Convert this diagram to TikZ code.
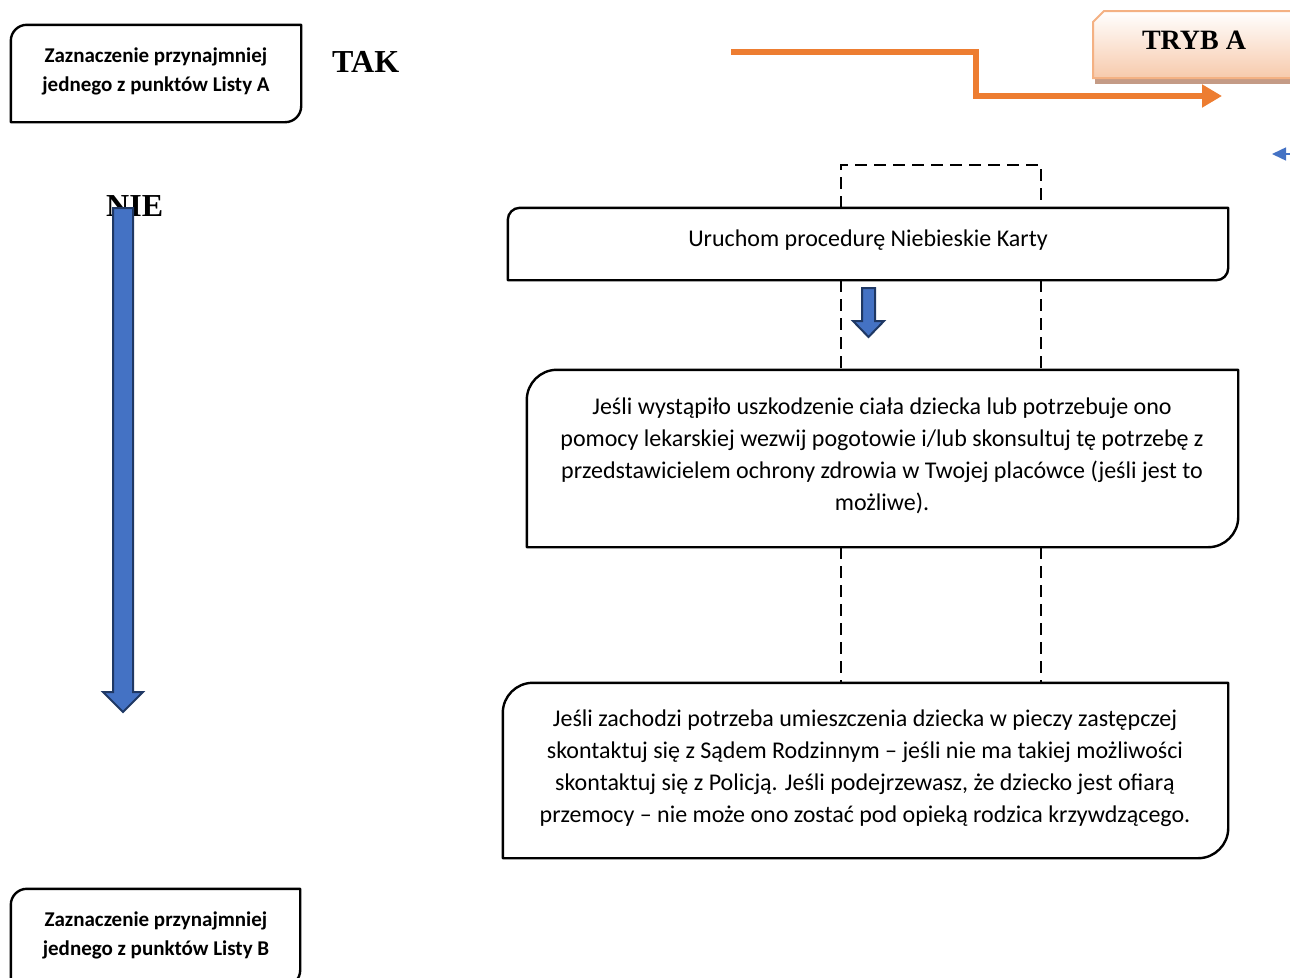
\documentclass[tikz,border=0pt]{standalone}
\usepackage{fontspec}
\setmainfont{Carlito}
\newfontfamily\headserif{Liberation Serif}
\usetikzlibrary{calc,arrows.meta}
\definecolor{navy}{HTML}{1F3864}
\definecolor{bluef}{HTML}{4472C4}
\definecolor{orangel}{HTML}{ED7D31}
\definecolor{peachb}{HTML}{F4B183}
\definecolor{peachf}{HTML}{F7CAAC}
\definecolor{shadowc}{HTML}{C49B86}
\tikzset{
  boxline/.style={draw=black,line width=2.4pt,line join=round},
  boxtext/.style={inner sep=0pt,align=center,font=\fontsize{24}{32}\selectfont},
  smalltext/.style={inner sep=0pt,align=center,font=\bfseries\fontsize{21}{29}\selectfont},
  headtext/.style={inner sep=0pt,font=\headserif\bfseries\fontsize{32}{36}\selectfont},
  dashline/.style={draw=black,line width=1.8pt,dash pattern=on 12pt off 7pt},
  blockarrow/.style={draw=navy,fill=bluef,line width=2pt,line join=miter},
  orangearrow/.style={draw=orangel,line width=6pt,-{Triangle[length=20pt,width=22pt]}},
}
\newcommand\drawdiag[2]{\draw[boxline] ($(#1.north west)+(0,#2)$) .. controls ($(#1.north west)+(0,0.45*#2)$) and ($(#1.north west)+(0.45*#2,0)$) .. ($(#1.north west)+(#2,0)$) -- (#1.north east) -- ($(#1.south east)+(0,-#2)$) .. controls ($(#1.south east)+(0,-0.45*#2)$) and ($(#1.south east)+(-0.45*#2,0)$) .. ($(#1.south east)+(-#2,0)$) -- (#1.south west) -- cycle;}
\begin{document}
\begin{tikzpicture}[x=1pt,y=-1pt]
\useasboundingbox (0,0) rectangle (1290,977);

% small decision boxes
\node[minimum width=290pt,minimum height=97pt,inner sep=0pt] (la) at (156,73.5) {};
\node[smalltext] (lat) at (156,71.5) {Zaznaczenie przynajmniej\\jednego z punktów Listy A};
\drawdiag{la}{16}
\node[minimum width=289pt,minimum height=97pt,inner sep=0pt] (lb) at (155.5,937.5) {};
\node[smalltext] (lbt) at (156,935) {Zaznaczenie przynajmniej\\jednego z punktów Listy B};
\drawdiag{lb}{16}

% labels
\node[headtext,anchor=base west] (tak) at (332,72) {TAK};
\node[headtext,anchor=base west] (nie) at (106,216) {NIE};

% big blue down arrow
\draw[blockarrow] (113,208) -- (133,208) -- (133,692) -- (143,692) -- (123,712) -- (103,692) -- (113,692) -- cycle;

% TRYB A box
\fill[shadowc] (1095,78) rectangle (1295,84);
\shade[top color=white,bottom color=peachf] (1093,22) -- (1104,11) -- (1295,11) -- (1295,78) -- (1093,78) -- cycle;
\draw[draw=peachb,line width=2pt] (1093,22) -- (1104,11) -- (1295,11) -- (1295,78) -- (1093,78) -- cycle;
\node[headtext,font=\headserif\bfseries\fontsize{28}{32}\selectfont,anchor=base] (tryb) at (1194,49) {TRYB A};

% orange connector
\coordinate (os) at (731,52);
\coordinate (oe) at (1222,96);
\draw[orangearrow] (os) -- (976,52) |- (oe);

% small blue arrowhead at right edge
\coordinate (bs) at (1295,154);
\coordinate (be) at (1272,154);
\draw[draw=bluef,line width=1.5pt,-{Triangle[length=14pt,width=13pt]}] (bs) -- (be);

% procedure boxes
\node[boxtext,minimum width=720pt,minimum height=72pt] (nk) at (868,244) {};
\node[boxtext] (nkt) at (868,240) {Uruchom procedurę Niebieskie Karty};
\drawdiag{nk}{12}

\node[minimum width=711pt,minimum height=177pt,inner sep=0pt] (b2) at (882.5,458.5) {};
\node[boxtext] (b2t) at (882,456) {Jeśli wystąpiło uszkodzenie ciała dziecka lub potrzebuje ono\\pomocy lekarskiej wezwij pogotowie i/lub skonsultuj tę potrzebę z\\przedstawicielem ochrony zdrowia w Twojej placówce (jeśli jest to\\możliwe).};
\drawdiag{b2}{30}

\node[minimum width=725pt,minimum height=175pt,inner sep=0pt] (b3) at (865.5,770.5) {};
\node[boxtext] (b3t) at (865,768) {Jeśli zachodzi potrzeba umieszczenia dziecka w pieczy zastępczej\\skontaktuj się z Sądem Rodzinnym – jeśli nie ma takiej możliwości\\skontaktuj się z Policją. Jeśli podejrzewasz, że dziecko jest ofiarą\\przemocy – nie może ono zostać pod opieką rodzica krzywdzącego.};
\drawdiag{b3}{30}

% dashed frame
\coordinate (dl) at (841,165);
\coordinate (dr) at (1041,165);
\draw[dashline] (nk.north -| dl) -- (dl) -- (dr) -- (nk.north -| dr);
\draw[dashline] (nk.south -| dl) -- (b2.north -| dl);
\draw[dashline] (nk.south -| dr) -- (b2.north -| dr);
\draw[dashline] (b2.south -| dl) -- (b3.north -| dl);
\draw[dashline] (b2.south -| dr) -- (b3.north -| dr);

% small blue down arrow
\draw[blockarrow] (862,288) -- (875,288) -- (875,321) -- (884,321) -- (868.5,337) -- (853,321) -- (862,321) -- cycle;
\end{tikzpicture}
\end{document}
